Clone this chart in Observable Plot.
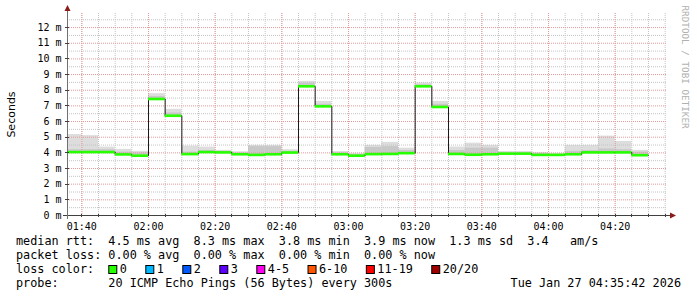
<!DOCTYPE html>
<html><head><meta charset="utf-8">
<script src="https://cdn.jsdelivr.net/npm/d3@7"></script>
<script src="https://cdn.jsdelivr.net/npm/@observablehq/plot@0.6"></script>
<style>
html,body{margin:0;padding:0;background:#fff;overflow:hidden;}
svg{display:block;}
</style></head><body><div id="chart"></div>
<script>
// ---- data ----
const intervalStarts = ["01:35","01:40","01:45","01:50","01:55","02:00","02:05","02:10","02:15","02:20",
  "02:25","02:30","02:35","02:40","02:45","02:50","02:55","03:00","03:05","03:10",
  "03:15","03:20","03:25","03:30","03:35","03:40","03:45","03:50","03:55","04:00",
  "04:05","04:10","04:15","04:20","04:25"];
const medianMs = [4.05,4.05,4.05,3.90,3.82,7.44,6.37,3.92,4.05,4.03,
  3.91,3.87,3.91,4.02,8.25,6.97,3.91,3.82,3.92,3.93,
  3.98,8.25,6.93,3.93,3.88,3.91,3.95,3.95,3.87,3.87,
  3.91,4.03,4.03,4.03,3.85];
const smokeInnerMs = [4.20,4.20,4.20,4.05,4.00,7.60,6.55,4.05,4.15,4.10,
  4.00,4.40,4.40,4.10,8.45,7.10,4.00,3.90,4.35,4.40,
  4.15,8.35,7.10,4.15,4.30,4.30,4.00,4.00,3.95,3.90,
  4.10,4.15,4.25,4.20,4.05];
const smokeTopMs = [5.17,5.10,4.37,4.22,4.10,7.78,6.78,4.43,4.37,4.16,
  4.07,4.48,4.48,4.20,8.57,7.29,4.09,3.95,4.48,4.67,
  4.30,8.46,7.29,4.37,4.62,4.48,4.09,4.09,4.03,3.95,
  4.48,4.48,5.07,4.73,4.16];
const yTickValues = [0,1,2,3,4,5,6,7,8,9,10,11,12];
const xTickLabels = ["01:40","02:00","02:20","02:40","03:00","03:20","03:40","04:00","04:20"];
const lossLabels = ["0","1","2","3","4-5","6-10","11-19","20/20"];
const lossColors = ["#26ff00","#00b8ff","#0059ff","#5e00ff","#ff00f0","#ff5500","#ff0000","#a10000"];
const statsRows = [
  "median rtt:  4.5 ms avg  8.3 ms max  3.8 ms min  3.9 ms now  1.3 ms sd  3.4   am/s",
  "packet loss: 0.00 % avg  0.00 % max  0.00 % min  0.00 % now",
  "loss color:",
  "probe:       20 ICMP Echo Pings (56 Bytes) every 300s"
];
const stampText = "Tue Jan 27 04:35:42 2026";
const watermark = "RRDTOOL / TOBI OETIKER";
const yLabel = "Seconds";

// ---- helpers ----
const toDate = s => { const [h,m] = s.split(":").map(Number); return new Date(Date.UTC(2026,0,27,h,m)); };
const STEP = 5*60*1000;
const rows = intervalStarts.map((s,i) => {
  const t = toDate(s);
  return {start: t, end: new Date(+t + STEP), median: medianMs[i], inner: smokeInnerMs[i], top: smokeTopMs[i]};
});
const linePts = rows.map(r => ({t: r.start, v: r.median}));
linePts.push({t: rows[rows.length-1].end, v: rows[rows.length-1].median});

const x0 = new Date(Date.UTC(2026,0,27,1,35,42));
const x1 = new Date(Date.UTC(2026,0,27,4,35,42));
const minorX = d3.utcMinute.every(5).range(x0, x1);
const majorX = xTickLabels.map(toDate);
const minorY = d3.range(0.5, 12.9, 1);
const majorY = yTickValues.filter(v => v > 0);

const mono = "DejaVu Sans Mono, monospace";
const gridMinor = "#c4c4c4";
const gridMajor = "#e59a9a";

const W = 697, H = 297, ML = 67, MR = 30, MT = 13, MB = 82;

const chart = Plot.plot({
  width: W, height: H,
  marginLeft: ML, marginRight: MR, marginTop: MT, marginBottom: MB,
  x: {type: "utc", domain: [x0, x1], axis: null},
  y: {domain: [0, 12.9], axis: null},
  style: {background: "#ffffff", overflow: "visible"},
  marks: [
    // smoke
    Plot.rect(rows, {x1: "start", x2: "end", y1: "median", y2: "top", fill: "#dddddd", clip: true}),
    Plot.rect(rows, {x1: "start", x2: "end", y1: "median", y2: "inner", fill: "#c8c8c8", clip: true}),
    // grid
    Plot.ruleX(minorX, {x: d => d, stroke: gridMinor, strokeDasharray: "1,1", strokeWidth: 1}),
    Plot.ruleY(minorY, {y: d => d, stroke: gridMinor, strokeDasharray: "1,1", strokeWidth: 1}),
    Plot.ruleX(majorX, {x: d => d, stroke: gridMajor, strokeDasharray: "1,1", strokeWidth: 1}),
    Plot.ruleY(majorY, {y: d => d, stroke: gridMajor, strokeDasharray: "1,1", strokeWidth: 1}),
    // median: black step line + green loss band
    Plot.line(linePts, {x: "t", y: "v", curve: "step-after", stroke: "#1a1a1a", strokeWidth: 1, clip: true}),
    Plot.ruleY(rows, {y: "median", x1: "start", x2: "end", stroke: lossColors[0], strokeWidth: 2.6, clip: true}),
    // axis labels
    Plot.text(yTickValues, {y: d => d, text: d => d + " m", frameAnchor: "left", dx: -6, textAnchor: "end",
      fontFamily: mono, fontSize: 10, fill: "#000"}),
    Plot.text(majorX, {x: d => d, text: (d,i) => xTickLabels[i], frameAnchor: "bottom", dy: 7, lineAnchor: "top",
      fontFamily: mono, fontSize: 10, fill: "#000"}),
    Plot.text([yLabel], {text: d => d, frameAnchor: "left", dx: -56, rotate: -90, textAnchor: "middle",
      fontFamily: "DejaVu Sans, sans-serif", fontSize: 11, fill: "#000"}),
    Plot.text([watermark], {text: d => d, frameAnchor: "top-right", dx: 21, dy: -8, rotate: 90, textAnchor: "start",
      fontFamily: mono, fontSize: 9.3, fill: "#b0b0b0"})
  ]
});

const svg = d3.select(chart);
const bottom = H - MB;
// axes
const ax = svg.append("g").attr("stroke", "#404040").attr("stroke-width", 1);
ax.append("line").attr("x1", ML - 4).attr("x2", W - MR + 3).attr("y1", bottom + 0.5).attr("y2", bottom + 0.5);
ax.append("line").attr("x1", ML + 0.5).attr("x2", ML + 0.5).attr("y1", bottom + 4).attr("y2", MT - 3)
  .attr("stroke", "#707070");
const xs = chart.scale("x"), ys = chart.scale("y");
minorX.forEach(d => { const px = Math.round(xs.apply(d)) + 0.5;
  ax.append("line").attr("x1", px).attr("x2", px).attr("y1", bottom - 1).attr("y2", bottom + 2); });
majorY.forEach(v => { const py = Math.round(ys.apply(v)) + 0.5;
  ax.append("line").attr("x1", ML - 2).attr("x2", ML + 2).attr("y1", py).attr("y2", py); });
// arrows
svg.append("path").attr("fill", "#8b1a1a")
  .attr("d", `M${ML + 0.5},${MT - 8} L${ML - 2.5},${MT - 2} L${ML + 3.5},${MT - 2} Z`);
svg.append("path").attr("fill", "#8b1a1a")
  .attr("d", `M${W - MR + 9},${bottom + 0.5} L${W - MR + 3},${bottom - 2.5} L${W - MR + 3},${bottom + 3.5} Z`);

// legend / stats
const FS = 11.8, CW = FS * 0.602;
const baselines = [244.6, 258.9, 273.1, 287.3];
const leg = svg.append("g").attr("font-family", mono).attr("font-size", FS).attr("fill", "#000")
  .attr("text-anchor", "start");
statsRows.forEach((s, i) => {
  leg.append("text").attr("x", 16).attr("y", baselines[i]).attr("text-anchor", "start")
    .style("white-space", "pre").attr("xml:space", "preserve").text(s);
});
leg.append("text").attr("x", 681).attr("y", baselines[3]).attr("text-anchor", "end").text(stampText);
let lx = 108.3;
lossLabels.forEach((lab, i) => {
  leg.append("rect").attr("x", lx + 0.5).attr("y", 265.5).attr("width", 8).attr("height", 8)
    .attr("fill", lossColors[i]).attr("stroke", "#000").attr("stroke-width", 1);
  leg.append("text").attr("x", lx + 11.5).attr("y", baselines[2]).attr("text-anchor", "start").text(lab);
  lx += 11.5 + lab.length * CW + 18.4;
});

document.getElementById("chart").appendChild(chart);
</script></body></html>
